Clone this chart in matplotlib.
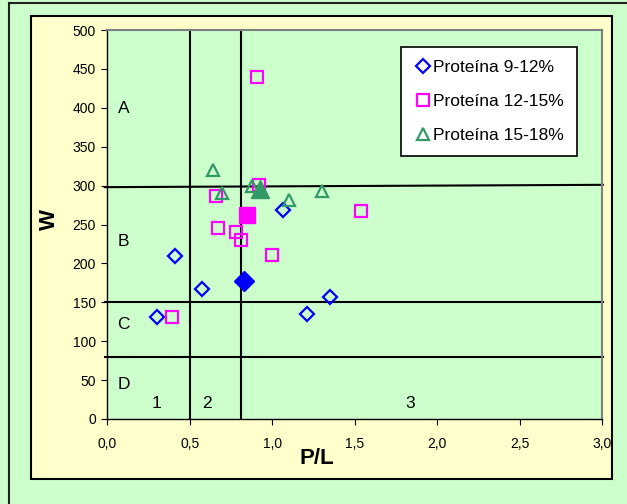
import matplotlib.pyplot as plt
from matplotlib.patches import Rectangle
from matplotlib.lines import Line2D

# data
p9_x = [0.300, 0.413, 0.577, 1.064, 1.214, 1.353]
p9_y = [131, 209, 167, 268, 135, 157]
p9_mean = (0.828, 178)

p12_x = [0.395, 0.907, 0.658, 0.670, 0.781, 0.809, 0.998, 1.537, 0.921]
p12_y = [131, 440, 286, 246, 241, 230, 211, 267, 301]
p12_mean = (0.848, 262)

p15_x = [0.640, 0.694, 0.876, 1.104, 1.305]
p15_y = [320, 291, 300, 281, 293]
p15_mean = (0.929, 296)

labels = ["Proteína 9-12%", "Proteína 12-15%", "Proteína 15-18%"]

# zone limits
w_lines = [150, 80]
pl_lines = [0.5, 0.81]
zone_letters = ["A", "B", "C", "D"]
zone_letter_y = [399, 228, 121, 44]
zone_nums = ["1", "2", "3"]
zone_num_x = [0.296, 0.606, 1.836]

plt.rcParams['font.family'] = ['Liberation Sans', 'DejaVu Sans']

fig = plt.figure(figsize=(6.27, 5.04), dpi=100)
fig.patch.set_facecolor('#CCFFCC')

# chart area box
fig.add_artist(Rectangle((31.2 / 627, 1 - 479 / 504), (612 - 31.2) / 627, (479 - 16) / 504,
                         transform=fig.transFigure, facecolor='#FFFFCC',
                         edgecolor='black', linewidth=1.5, zorder=0))
# outer frame lines
fig.add_artist(Line2D([9 / 627, 9 / 627], [0, 1 - 2.5 / 504], transform=fig.transFigure,
                      color='#202020', linewidth=1.5))
fig.add_artist(Line2D([9 / 627, 1], [1 - 2.5 / 504, 1 - 2.5 / 504], transform=fig.transFigure,
                      color='#202020', linewidth=1.5))

ax = fig.add_axes([107.2 / 627, 1 - 419 / 504, (602 - 107.2) / 627, (419 - 30) / 504])
ax.set_facecolor('#CCFFCC')
ax.set_xlim(0, 3)
ax.set_ylim(0, 500)

for s in ['top', 'right']:
    ax.spines[s].set_color('#808080')
    ax.spines[s].set_linewidth(1.5)
for s in ['left', 'bottom']:
    ax.spines[s].set_color('black')
    ax.spines[s].set_linewidth(1)

ax.set_xticks([0, 0.5, 1, 1.5, 2, 2.5, 3])
ax.set_xticklabels(['0,0', '0,5', '1,0', '1,5', '2,0', '2,5', '3,0'])
ax.set_yticks(range(0, 501, 50))
ax.tick_params(axis='x', direction='out', length=4, pad=9, labelsize=10)
ax.tick_params(axis='y', direction='out', length=4, pad=4, labelsize=10)

ax.set_xlabel('P/L', fontsize=16, fontweight='bold')
ax.xaxis.set_label_coords(0.424, -0.075)
ax.set_ylabel('W', fontsize=16, fontweight='bold')
ax.yaxis.set_label_coords(-0.095, 0.512)

# zone lines
ax.plot([-0.015, 3.005], [298, 301], color='black', lw=1.5, clip_on=False, zorder=2)
for w in w_lines:
    ax.plot([-0.015, 3.005], [w, w], color='black', lw=1.5, clip_on=False, zorder=2)
for p in pl_lines:
    ax.plot([p, p], [0, 500], color='black', lw=1.5, zorder=2)

for t, y in zip(zone_letters, zone_letter_y):
    ax.text(0.10, y, t, fontsize=12.5, ha='center', va='center')
for t, x in zip(zone_nums, zone_num_x):
    ax.text(x, 20, t, fontsize=12.5, ha='center', va='center')

blue = '#0000FF'
mag = '#FF00FF'
green = '#339966'

ax.plot(p9_x, p9_y, 'D', ms=7, mfc='none', mec=blue, mew=1.6, ls='none', label=labels[0], zorder=3)
ax.plot(p12_x, p12_y, 's', ms=8, mfc='none', mec=mag, mew=1.6, ls='none', label=labels[1], zorder=3)
ax.plot(p15_x, p15_y, '^', ms=9, mfc='none', mec=green, mew=1.6, ls='none', label=labels[2], zorder=4)

# group means (filled)
ax.plot(*p9_mean, 'D', ms=10, color=blue, zorder=5)
ax.plot(*p12_mean, 's', ms=11, color=mag, zorder=5)
ax.plot(*p15_mean, '^', ms=13, color=green, zorder=5)

leg = ax.legend(loc='upper right', bbox_to_anchor=((577 - 107.2) / 494.8, (419 - 46.7) / 389),
                fontsize=12.5, frameon=True, fancybox=False, edgecolor='black',
                facecolor='white', framealpha=1,
                handletextpad=0.1, handlelength=1.0, borderpad=0.75, labelspacing=1.1,
                borderaxespad=0)
leg.get_frame().set_linewidth(1.2)

fig.savefig('out.png', dpi=100, facecolor=fig.get_facecolor())
